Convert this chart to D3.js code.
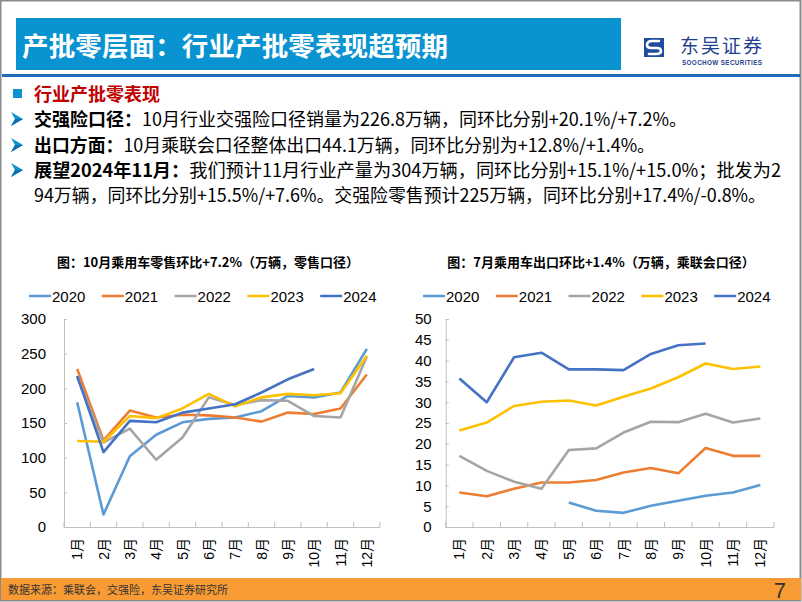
<!DOCTYPE html>
<html><head><meta charset="utf-8">
<script src="https://cdn.jsdelivr.net/npm/d3@7"></script>
<style>
body{margin:0;padding:0;background:#fff;}
svg{display:block;}
text{font-family:"Liberation Sans",Arial,"Noto Sans CJK SC",sans-serif;}
.cjk{font-family:"Noto Sans CJK SC","Liberation Sans",sans-serif;}
</style></head>
<body>
<svg id="c" width="802" height="602"></svg>
<script>
const months = ["1月","2月","3月","4月","5月","6月","7月","8月","9月","10月","11月","12月"];
const years = ["2020","2021","2022","2023","2024"];
const colors = ["#5B9BD5","#ED7D31","#A5A5A5","#FFC000","#4472C4"];
// Left: retail (万辆)
const retail2020 = [180,18,102,133,151,156,158,167,189,187,194,257];
const retail2021 = [228,125,168,158,162,161,158,152,165,163,171,220];
const retail2022 = [216,122,142,97,129,187,176,183,182,160,158,246];
const retail2023 = [124,123,160,157,171,192,174,187,192,190,193,247];
const retail2024 = [218,108,153,151,165,171,177,194,213,228,null,null];
const retailTicks = [0,50,100,150,200,250,300];
// Right: export (万辆)
const export2020 = [null,null,null,null,5.9,3.9,3.4,5.1,6.3,7.5,8.3,10.1];
const export2021 = [8.3,7.4,9.2,10.7,10.7,11.3,13.1,14.2,12.9,19.0,17.1,17.1];
const export2022 = [17.1,13.5,10.9,9.2,18.5,18.9,22.7,25.3,25.2,27.2,25.1,26.1];
const export2023 = [23.2,25.1,29.1,30.1,30.4,29.2,31.3,33.3,36.0,39.3,38.0,38.6];
const export2024 = [35.7,30.0,40.8,41.9,37.9,37.9,37.7,41.6,43.7,44.1,null,null];
const exportTicks = [0,5,10,15,20,25,30,35,40,45,50];

const svg = d3.select("#c");

// slide frame
svg.append("rect").attr("x",0.5).attr("y",0.5).attr("width",800).attr("height",600)
  .attr("fill","#fff").attr("stroke","#8a8a8a").attr("stroke-width",2);

// header
svg.append("rect").attr("x",16).attr("y",18).attr("width",605).attr("height",52).attr("fill","#0A93D1");
svg.append("text").attr("class","cjk").attr("x",22).attr("y",56).attr("fill","#fff")
  .attr("font-size",26.5).attr("font-weight","bold").attr("textLength",426)
  .text("产批零层面：行业产批零表现超预期");
svg.append("rect").attr("x",2).attr("y",74).attr("width",798).attr("height",3).attr("fill","#1C6FB6");

// logo
const lg = svg.append("g").attr("transform","translate(644,38)");
lg.append("rect").attr("width",20).attr("height",19).attr("fill","#1F4C9C");
lg.append("path").attr("d","M15,3 L8,3 Q3,3 3,7 Q3,10 7,10 L13,10 Q17,10 17,13 Q17,16 12,16 L5,16")
  .attr("fill","none").attr("stroke","#fff").attr("stroke-width",2.6).attr("stroke-linecap","round");
svg.append("text").attr("class","cjk").attr("x",680).attr("y",53).attr("fill","#1F3F8F")
  .attr("font-size",19).attr("textLength",82).text("东吴证券");
svg.append("text").attr("x",682).attr("y",64.5).attr("fill","#1F3F8F")
  .attr("font-size",6.3).attr("font-weight","bold").attr("textLength",80).text("SOOCHOW SECURITIES");

// bullets
const fs = 18;
svg.append("rect").attr("x",13).attr("y",89).attr("width",9).attr("height",9).attr("fill","#0A93D1");
svg.append("text").attr("class","cjk").attr("x",34).attr("y",101).attr("font-size",fs)
  .attr("font-weight","bold").attr("fill","#C00000").text("行业产批零表现");
function arrow(y){
  const c = y - 7;
  svg.append("path").attr("d",`M11,${c-7} L23,${c} L11,${c+7} L15,${c} Z`).attr("fill","#0A93D1");
  svg.append("path").attr("d",`M15,${c} L23,${c} L11,${c+7} Z`).attr("fill","#0B6FAF");
}
function line(y, boldPart, rest, len){
  const t = svg.append("text").attr("class","cjk").attr("x",34).attr("y",y).attr("font-size",fs)
    .attr("fill","#000").attr("textLength",len).attr("lengthAdjust","spacingAndGlyphs");
  if(boldPart) t.append("tspan").attr("font-weight","bold").text(boldPart);
  t.append("tspan").text(rest);
}
arrow(126); line(126,"交强险口径：","10月行业交强险口径销量为226.8万辆，同环比分别+20.1%/+7.2%。",653);
arrow(152); line(152,"出口方面：","10月乘联会口径整体出口44.1万辆，同环比分别为+12.8%/+1.4%。",621);
arrow(177); line(177,"展望2024年11月：","我们预计11月行业产量为304万辆，同环比分别+15.1%/+15.0%；批发为2",747);
line(202,null,"94万辆，同环比分别+15.5%/+7.6%。交强险零售预计225万辆，同环比分别+17.4%/-0.8%。",732);

// chart builder
function chart(opt){
  const g = svg.append("g");
  const x = d3.scaleBand().domain(months).range([opt.x0,opt.x1]).padding(0);
  const y = d3.scaleLinear().domain([opt.ticks[0],opt.ticks[opt.ticks.length-1]]).range([527,319]);
  // title
  g.append("text").attr("class","cjk").attr("x",opt.titleX).attr("y",267).attr("text-anchor","middle")
    .attr("font-size",13).attr("font-weight","bold").attr("fill","#000").text(opt.title);
  // legend
  years.forEach((yr,i)=>{
    const lx = opt.legX + i*72.8;
    g.append("line").attr("x1",lx).attr("x2",lx+22).attr("y1",296).attr("y2",296)
      .attr("stroke",colors[i]).attr("stroke-width",2.5);
    g.append("text").attr("x",lx+23).attr("y",301.5).attr("font-size",15).attr("fill","#000").text(yr);
  });
  // y axis
  const ya = d3.axisLeft(y).tickValues(opt.ticks).tickSize(-3).tickPadding(opt.pad).tickFormat(d3.format("d"));
  const yg = g.append("g").attr("transform",`translate(${opt.x0},0)`).call(ya);
  yg.select(".domain").attr("stroke","#BFBFBF").attr("stroke-width",1);
  yg.selectAll(".tick line").attr("stroke","#BFBFBF");
  yg.selectAll(".tick text").attr("font-size",15).attr("fill","#000")
    .attr("font-family","'Liberation Sans',Arial,sans-serif");
  // x axis
  g.append("line").attr("x1",opt.x0).attr("x2",opt.x1).attr("y1",527.5).attr("y2",527.5)
    .attr("stroke","#BFBFBF").attr("stroke-width",1);
  const bounds = months.map(m=>x(m)).concat([opt.x1]);
  g.selectAll(".xt").data(bounds).enter().append("line")
    .attr("x1",d=>d).attr("x2",d=>d).attr("y1",522).attr("y2",527.5)
    .attr("stroke","#BFBFBF").attr("stroke-width",1);
  g.selectAll(".xl").data(months).enter().append("text")
    .attr("transform",d=>`translate(${x(d)+x.bandwidth()/2},538) rotate(-90)`)
    .attr("text-anchor","end").attr("dominant-baseline","central")
    .attr("font-size",14).attr("fill","#000").text(d=>d);
  // lines
  const ln = d3.line().defined(d=>d.v!=null).x(d=>x(d.m)+x.bandwidth()/2).y(d=>y(d.v));
  opt.series.forEach((s,i)=>{
    const data = months.map((m,j)=>({m:m,v:s[j]}));
    g.append("path").datum(data).attr("d",ln).attr("fill","none")
      .attr("stroke",colors[i]).attr("stroke-width",2.6).attr("stroke-linejoin","round");
  });
}

chart({x0:64,x1:380,ticks:retailTicks,pad:18,titleX:208,legX:29,
  title:"图：10月乘用车零售环比+7.2%（万辆，零售口径）",
  series:[retail2020,retail2021,retail2022,retail2023,retail2024]});
chart({x0:445.7,x1:774,ticks:exportTicks,pad:14,titleX:601,legX:423,
  title:"图：7月乘用车出口环比+1.4%（万辆，乘联会口径）",
  series:[export2020,export2021,export2022,export2023,export2024]});

// footer
svg.append("rect").attr("x",1).attr("y",578).attr("width",800).attr("height",22).attr("fill","#F99B34");
svg.append("text").attr("class","cjk").attr("x",8).attr("y",594).attr("font-size",11).attr("fill","#333")
  .text("数据来源：乘联会，交强险，东吴证券研究所");
svg.append("text").attr("x",786).attr("y",598).attr("text-anchor","end").attr("font-size",22)
  .attr("font-family","'Liberation Serif','Times New Roman',serif").attr("fill","#333").text("7");
</script>
</body></html>
